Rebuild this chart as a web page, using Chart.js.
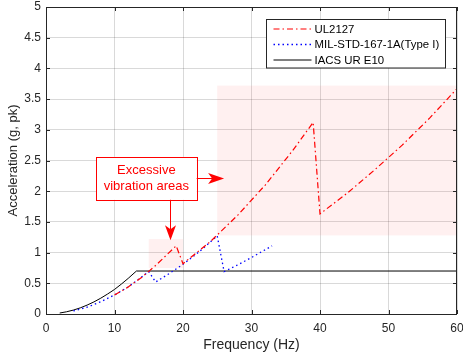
<!DOCTYPE html>
<html>
<head>
<meta charset="utf-8">
<script src="https://cdn.jsdelivr.net/npm/chart.js@4.4.0/dist/chart.umd.min.js"></script>
<style>
  html, body { margin: 0; padding: 0; background: #fff; }
  #wrap { width: 463px; height: 359px; }
</style>
</head>
<body>
<div id="wrap"><canvas id="chart"></canvas></div>
<script>
// UL2127 (red dash-dot)
const ulFreq = [10, 12, 14, 16, 19, 20, 24, 28, 32, 36, 39, 40, 44, 48, 52, 56, 60];
const ulAcc  = [0.31, 0.44, 0.60, 0.79, 1.11, 0.82, 1.18, 1.61, 2.10, 2.66, 3.12, 1.63, 1.97, 2.35, 2.75, 3.19, 3.67];

// MIL-STD-167-1A (Type I) (blue dotted)
const milFreq = [4, 6, 8, 10, 12, 15, 16, 18, 20, 22, 25, 26, 28, 30, 33];
const milAcc  = [0.05, 0.11, 0.20, 0.31, 0.44, 0.69, 0.52, 0.66, 0.81, 0.98, 1.27, 0.69, 0.80, 0.92, 1.11];

// IACS UR E10 (black solid)
const iacsFreq = [2, 3, 4, 5, 6, 7, 8, 9, 10, 11, 12, 13, 13.2, 60];
const iacsAcc  = [0.016, 0.036, 0.064, 0.10, 0.145, 0.197, 0.258, 0.326, 0.40, 0.487, 0.58, 0.68, 0.70, 0.70];

// shaded "excessive vibration" regions (Hz / g)
const regionFrom = [15, 25];
const regionTo   = [20, 60];
const regionLow  = [0.75, 1.28];
const regionHigh = [1.22, 3.72];

const xTicks = [0, 10, 20, 30, 40, 50, 60];
const yTicks = [0, 0.5, 1, 1.5, 2, 2.5, 3, 3.5, 4, 4.5, 5];

const noteLines = ["Excessive", "vibration areas"];

const toPoints = (xs, ys) => xs.map((x, i) => ({ x: x, y: ys[i] }));

const FONT = "'Liberation Sans', Arial, sans-serif";
const TXT = "#262626";

const regionsPlugin = {
  id: "regions",
  beforeDatasetsDraw(chart) {
    const { ctx, scales: { x, y } } = chart;
    ctx.save();
    ctx.fillStyle = "rgba(255, 60, 60, 0.08)";
    for (let i = 0; i < regionFrom.length; i++) {
      const x0 = x.getPixelForValue(regionFrom[i]);
      const x1 = x.getPixelForValue(regionTo[i]);
      const y0 = y.getPixelForValue(regionHigh[i]);
      const y1 = y.getPixelForValue(regionLow[i]);
      ctx.fillRect(x0, y0, x1 - x0, y1 - y0);
    }
    ctx.restore();
  }
};

function arrowHead(ctx, tx, ty, dir) {
  // dir: 'right' or 'down'; tip at (tx, ty)
  ctx.beginPath();
  if (dir === "right") {
    ctx.moveTo(tx, ty);
    ctx.lineTo(tx - 16, ty - 5.5);
    ctx.lineTo(tx - 12, ty);
    ctx.lineTo(tx - 16, ty + 5.5);
  } else {
    ctx.moveTo(tx, ty);
    ctx.lineTo(tx - 5.5, ty - 15);
    ctx.lineTo(tx, ty - 11);
    ctx.lineTo(tx + 5.5, ty - 15);
  }
  ctx.closePath();
  ctx.fill();
}

const framePlugin = {
  id: "frame",
  afterDraw(chart) {
    const { ctx, chartArea: a, scales: { x, y } } = chart;
    ctx.save();

    // box + inside ticks
    ctx.strokeStyle = TXT;
    ctx.lineWidth = 1;
    ctx.strokeRect(a.left + 0.5, a.top + 0.5, a.right - a.left - 1, a.bottom - a.top);
    ctx.beginPath();
    xTicks.forEach(v => {
      const px = Math.round(x.getPixelForValue(v)) + 0.5;
      ctx.moveTo(px, a.bottom); ctx.lineTo(px, a.bottom - 4);
      ctx.moveTo(px, a.top); ctx.lineTo(px, a.top + 4);
    });
    yTicks.forEach(v => {
      const py = Math.round(y.getPixelForValue(v)) + 0.5;
      ctx.moveTo(a.left, py); ctx.lineTo(a.left + 4, py);
      ctx.moveTo(a.right, py); ctx.lineTo(a.right - 4, py);
    });
    ctx.stroke();

    // annotation box
    const bx0 = x.getPixelForValue(7.3), bx1 = x.getPixelForValue(22.0);
    const by0 = y.getPixelForValue(2.56), by1 = y.getPixelForValue(1.86);
    ctx.fillStyle = "#fff";
    ctx.fillRect(bx0, by0, bx1 - bx0, by1 - by0);
    ctx.strokeStyle = "#ff0000";
    ctx.lineWidth = 1;
    ctx.strokeRect(Math.round(bx0) + 0.5, Math.round(by0) + 0.5, Math.round(bx1 - bx0), Math.round(by1 - by0));
    ctx.fillStyle = "#ff0000";
    ctx.font = "13px " + FONT;
    ctx.textAlign = "center";
    ctx.textBaseline = "middle";
    const cx = (bx0 + bx1) / 2, cy = (by0 + by1) / 2;
    ctx.fillText(noteLines[0], cx, cy - 8);
    ctx.fillText(noteLines[1], cx, cy + 8);

    // arrows
    const ay = cy;
    const tipX = x.getPixelForValue(26.0);
    ctx.beginPath();
    ctx.moveTo(bx1, Math.round(ay) + 0.5);
    ctx.lineTo(tipX - 12, Math.round(ay) + 0.5);
    const dx = Math.round(x.getPixelForValue(18.1)) + 0.5;
    const tipY = y.getPixelForValue(1.2);
    ctx.moveTo(dx, by1);
    ctx.lineTo(dx, tipY - 11);
    ctx.stroke();
    arrowHead(ctx, tipX, Math.round(ay) + 0.5, "right");
    arrowHead(ctx, dx, tipY, "down");

    // legend
    const lx0 = 266.5, ly0 = 19.5, lw = 179, lh = 48.5;
    ctx.fillStyle = "#fff";
    ctx.fillRect(lx0, ly0, lw, lh);
    ctx.strokeStyle = TXT;
    ctx.setLineDash([]);
    ctx.strokeRect(lx0, ly0, lw, lh);
    ctx.font = "11.4px " + FONT;
    ctx.textAlign = "left";
    ctx.textBaseline = "middle";
    chart.data.datasets.forEach((ds, i) => {
      const ly = ly0 + 9.5 + i * 15.5;
      ctx.strokeStyle = ds.borderColor;
      ctx.lineWidth = ds.borderWidth;
      ctx.setLineDash(ds.borderDash || []);
      ctx.beginPath();
      ctx.moveTo(lx0 + 7, ly);
      ctx.lineTo(lx0 + 45, ly);
      ctx.stroke();
      ctx.fillStyle = "#000";
      ctx.fillText(ds.label, lx0 + 48, ly + 0.5);
    });
    ctx.restore();
  }
};

new Chart(document.getElementById("chart"), {
  type: "scatter",
  data: {
    datasets: [
      {
        label: "UL2127",
        data: toPoints(ulFreq, ulAcc),
        showLine: true,
        borderColor: "#ff0000",
        borderWidth: 1.2,
        borderDash: [6, 3, 1.5, 3],
        pointRadius: 0,
        order: 1
      },
      {
        label: "MIL-STD-167-1A(Type I)",
        data: toPoints(milFreq, milAcc),
        showLine: true,
        borderColor: "#0000ff",
        borderWidth: 1.3,
        borderDash: [1.5, 3],
        pointRadius: 0,
        order: 2
      },
      {
        label: "IACS UR E10",
        data: toPoints(iacsFreq, iacsAcc),
        showLine: true,
        borderColor: "#000000",
        borderWidth: 1,
        pointRadius: 0,
        order: 3
      }
    ]
  },
  options: {
    responsive: true,
    maintainAspectRatio: false,
    animation: false,
    layout: { padding: { top: 7, right: 6, left: 0, bottom: 0 } },
    plugins: {
      legend: { display: false },
      tooltip: { enabled: false }
    },
    scales: {
      x: {
        type: "linear",
        min: 0,
        max: 60,
        afterBuildTicks: (s) => { s.ticks = xTicks.map(v => ({ value: v })); },
        afterFit: (s) => { s.height = 45; s.paddingLeft = 0; s.paddingRight = 0; },
        grid: { color: "rgba(0,0,0,0.15)", drawTicks: false },
        border: { display: false },
        ticks: { color: TXT, font: { family: FONT, size: 12 }, padding: 7, maxRotation: 0, callback: (v) => String(v) },
        title: { display: true, text: "Frequency (Hz)", color: TXT, font: { family: FONT, size: 14 }, padding: { top: 0, bottom: 5 } }
      },
      y: {
        type: "linear",
        min: 0,
        max: 5,
        afterBuildTicks: (s) => { s.ticks = yTicks.map(v => ({ value: v })); },
        afterFit: (s) => { s.width = 46; s.paddingTop = 0; s.paddingBottom = 0; },
        grid: { color: "rgba(0,0,0,0.15)", drawTicks: false },
        border: { display: false },
        ticks: { color: TXT, font: { family: FONT, size: 12 }, padding: 5, callback: (v) => String(v) },
        title: { display: true, text: "Acceleration (g, pk)", color: TXT, font: { family: FONT, size: 13 }, padding: { top: 6, bottom: 0 } }
      }
    }
  },
  plugins: [regionsPlugin, framePlugin]
});
</script>
</body>
</html>
